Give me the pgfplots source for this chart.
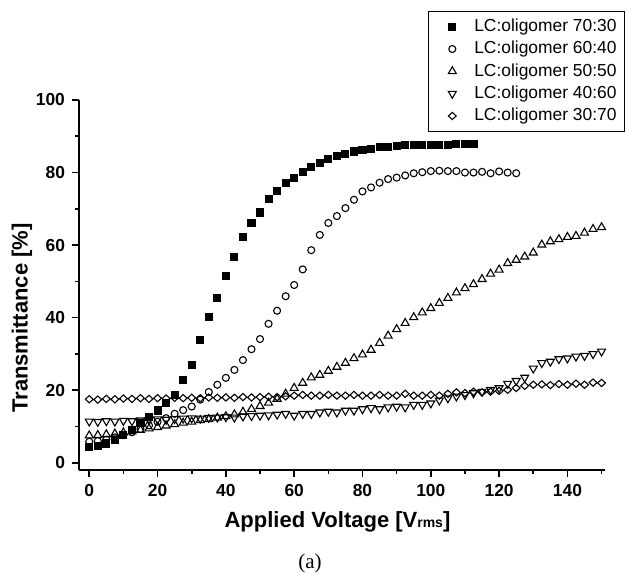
\documentclass[border=0pt]{standalone}
\usepackage{fontspec}
\setmainfont{Liberation Sans}
\newfontfamily\serifa{Liberation Serif}
\usepackage{pgfplots}
\pgfplotsset{compat=1.18}
\begin{document}
\begin{tikzpicture}
\useasboundingbox (-39.5pt,-52pt) rectangle (274.5pt,235pt);
\begin{axis}[
  at={(0pt,0pt)}, anchor=south west,
  scale only axis, width=263pt, height=185pt,
  xmin=-3, xmax=151, ymin=-2, ymax=100,
  axis x line*=bottom, axis y line*=left,
  axis line style={line width=0.9pt, -},
  xtick={0,20,...,140}, ytick={0,20,...,100},
  minor xtick={10,30,...,150}, minor ytick={10,30,...,90},
  tick align=outside, major tick length=3.5pt, minor tick length=1.8pt,
  tick style={black, line width=0.8pt},
  /pgf/number format/assume math mode=true,
  tick label style={font=\fontsize{8.7}{10}\selectfont\bfseries},
  xlabel={Applied Voltage [V{\fontsize{7}{8}\selectfont rms}]},
  label style={font=\fontsize{11}{13}\selectfont\bfseries},
  xlabel style={at={(axis description cs:0.4914,0)}, anchor=center, yshift=-26pt},
  legend style={at={(axis description cs:1.038,1.2405)}, anchor=north east,
    draw=black, line width=0.5pt, font=\fontsize{8.7}{10}\selectfont,
    inner xsep=2pt, inner ysep=3.2pt, row sep=2.35pt,
    nodes={inner ysep=0.5pt, inner xsep=2pt}},
  legend cell align=left,
  legend image code/.code={\path[draw=none, fill=none] (0pt,0pt) -- (18.85pt,0pt); \draw[#1] plot coordinates {(9.85pt,0pt)};},
  every axis plot/.append style={only marks, black, line width=0.55pt},
  clip=false,
]
% LC:oligomer 70:30
\addplot[mark=square*, mark size=1.75pt] coordinates {
(0,4.3)(2.5,4.6)(5,5.3)(7.5,6.3)(10,7.7)(12.5,9.1)(15,11.0)(17.5,12.5)(20,14.4)(22.5,16.4)
(25,18.7)(27.5,22.7)(30,27.0)(32.5,33.9)(35,40.1)(37.5,45.5)(40,51.5)(42.5,56.8)(45,62.2)(47.5,66.2)
(50,69.0)(52.5,72.6)(55,75.0)(57.5,77.1)(60,78.6)(62.5,80.2)(65,81.5)(67.5,82.7)(70,83.7)(72.5,84.6)
(75,85.1)(77.5,85.8)(80,86.2)(82.5,86.5)(85,87.0)(87.5,87.1)(90,87.3)(92.5,87.5)(95,87.6)(97.5,87.6)
(100,87.7)(102.5,87.7)(105,87.7)(107.5,87.8)(110,87.8)(112.5,87.8)};
% LC:oligomer 60:40
\addplot[mark=o, mark size=1.75pt] coordinates {
(0,5.8)(2.5,6.0)(5,6.4)(7.5,7.0)(10,7.6)(12.5,8.4)(15,9.3)(17.5,10.3)(20,11.3)(22.5,12.3)
(25,13.5)(27.5,14.5)(30,15.5)(32.5,17.4)(35,19.5)(37.5,21.5)(40,23.4)(42.5,25.6)(45,28.3)(47.5,31.3)
(50,34.1)(52.5,38.3)(55,41.9)(57.5,45.9)(60,49.0)(62.5,53.3)(65,58.6)(67.5,62.8)(70,66.1)(72.5,68.0)
(75,70.2)(77.5,72.5)(80,74.8)(82.5,75.9)(85,77.2)(87.5,78.2)(90,78.6)(92.5,79.2)(95,79.8)(97.5,80.1)
(100,80.4)(102.5,80.5)(105,80.4)(107.5,80.4)(110,80.0)(112.5,80.0)(115,80.2)(117.5,79.8)(120,80.3)(122.5,80.0)
(125,79.8)};
% LC:oligomer 50:50
\addplot[mark=triangle, mark size=2.3pt] coordinates {
(0,7.5)(2.5,7.6)(5,7.8)(7.5,8.0)(10,8.3)(12.5,8.6)(15,9.0)(17.5,9.4)(20,9.8)(22.5,10.2)
(25,10.6)(27.5,11.0)(30,11.3)(32.5,11.7)(35,12.0)(37.5,12.4)(40,12.8)(42.5,13.3)(45,14.0)(47.5,14.8)
(50,15.6)(52.5,16.5)(55,17.6)(57.5,19.0)(60,20.6)(62.5,22.0)(65,23.5)(67.5,24.2)(70,25.3)(72.5,26.4)
(75,27.5)(77.5,28.8)(80,29.8)(82.5,31.1)(85,33.0)(87.5,35.0)(90,36.8)(92.5,38.5)(95,40.1)(97.5,41.4)
(100,42.6)(102.5,44.0)(105,45.4)(107.5,46.9)(110,48.1)(112.5,49.2)(115,50.6)(117.5,52.1)(120,53.2)(122.5,55.0)
(125,55.9)(127.5,56.8)(130,57.9)(132.5,60.1)(135,61.0)(137.5,61.6)(140,62.2)(142.5,62.5)(145,63.4)(147.5,64.4)
(150,64.9)};
% LC:oligomer 40:60
\addplot[mark=triangle, mark size=2.3pt, mark options={rotate=180}] coordinates {
(0,11.4)(2.5,11.3)(5,11.5)(7.5,11.4)(10,11.6)(12.5,11.5)(15,11.7)(17.5,11.8)(20,12.0)(22.5,11.9)
(25,12.1)(27.5,12.2)(30,12.3)(32.5,12.2)(35,12.4)(37.5,12.5)(40,12.6)(42.5,12.5)(45,12.8)(47.5,12.9)
(50,13.0)(52.5,13.1)(55,13.3)(57.5,13.5)(60,13.0)(62.5,13.5)(65,13.5)(67.5,13.9)(70,14.1)(72.5,13.9)
(75,14.4)(77.5,14.4)(80,14.8)(82.5,15.1)(85,14.8)(87.5,15.3)(90,15.5)(92.5,15.3)(95,16.0)(97.5,16.0)
(100,16.4)(102.5,17.2)(105,17.8)(107.5,18.3)(110,18.7)(112.5,19.2)(115,19.6)(117.5,20.1)(120,20.6)(122.5,21.8)
(125,22.6)(127.5,23.5)(130,26.0)(132.5,27.5)(135,27.9)(137.5,28.6)(140,28.8)(142.5,29.3)(145,29.5)(147.5,30.0)
(150,30.7)};
% LC:oligomer 30:70
\addplot[mark=diamond, mark size=1.8pt, mark options={xscale=1.45}] coordinates {
(0,17.5)(2.5,17.4)(5,17.6)(7.5,17.5)(10,17.7)(12.5,17.6)(15,17.8)(17.5,17.6)(20,17.8)(22.5,17.7)
(25,17.9)(27.5,17.8)(30,17.9)(32.5,17.8)(35,18.0)(37.5,17.9)(40,18.0)(42.5,17.9)(45,18.1)(47.5,18.0)
(50,18.1)(52.5,18.2)(55,18.1)(57.5,18.3)(60,18.5)(62.5,18.7)(65,18.5)(67.5,18.5)(70,18.7)(72.5,18.5)
(75,18.5)(77.5,18.7)(80,18.5)(82.5,18.5)(85,18.7)(87.5,18.5)(90,18.5)(92.5,19.0)(95,18.5)(97.5,18.5)
(100,18.7)(102.5,18.5)(105,19.0)(107.5,19.4)(110,19.2)(112.5,19.6)(115,19.4)(117.5,19.6)(120,19.8)(122.5,20.1)
(125,20.6)(127.5,21.2)(130,21.5)(132.5,21.6)(135,21.4)(137.5,21.7)(140,21.5)(142.5,21.8)(145,21.5)(147.5,22.1)
(150,22.0)};
\legend{LC:oligomer 70:30\hspace{3pt}, LC:oligomer 60:40\hspace{3pt}, LC:oligomer 50:50\hspace{3pt}, LC:oligomer 40:60\hspace{3pt}, LC:oligomer 30:70\hspace{3pt}}
\node[rotate=90, font=\fontsize{11}{13}\selectfont\bfseries] at ([xshift=-28.5pt]axis description cs:0,0.4108) {Transmittance [\%]};
\node[font=\serifa\fontsize{10.5}{12}\selectfont, yshift=-46.5pt] at (axis description cs:0.439,0) {(a)};
\end{axis}
\end{tikzpicture}
\end{document}
